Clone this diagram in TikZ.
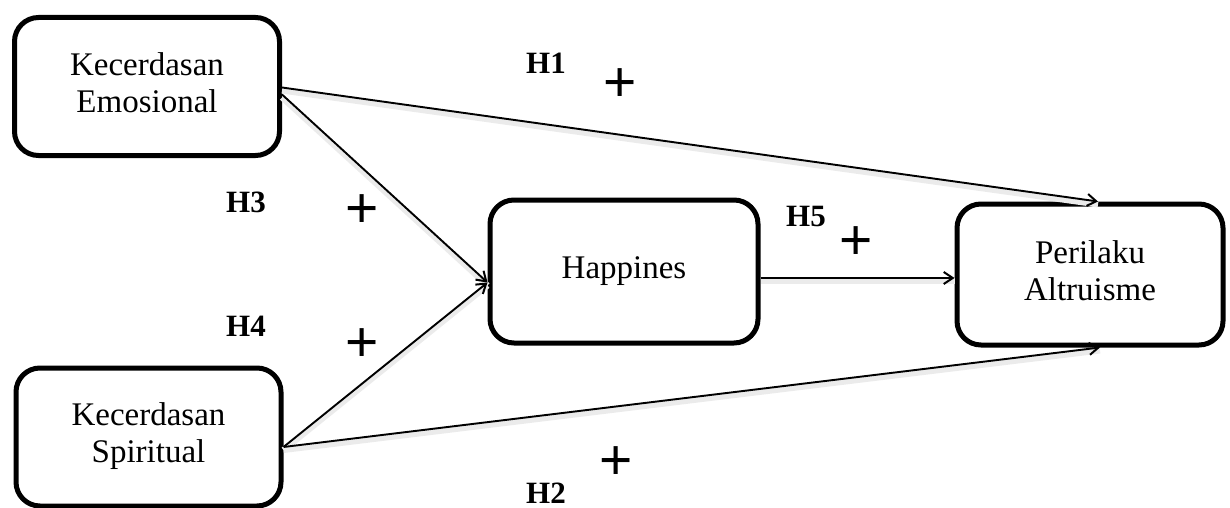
\documentclass[tikz,border=0pt]{standalone}
\usepackage{fontspec}
\setmainfont{Liberation Serif}
\newfontfamily\plusfont{Liberation Sans}
\usetikzlibrary{arrows.meta,calc}
\newcommand{\vtxt}[1]{\raisebox{-5pt}{\begin{tabular}{@{}c@{}}#1\end{tabular}}}
\tikzset{
  varbox/.style={draw=black, line width=5pt, rounded corners=24pt, fill=white,
    minimum width=265pt, minimum height=138pt, align=center, inner sep=0pt,
    font=\fontsize{33}{37}\selectfont},
  hlabel/.style={font=\fontsize{31}{33}\selectfont\bfseries, inner sep=0pt},
  pluslabel/.style={font=\fontsize{57}{57}\selectfont\plusfont, inner sep=0pt},
  conn/.style={line width=1.9pt, -{Straight Barb[length=9pt,width=12pt,line width=2pt]},
    preaction={draw=black!8, line width=6pt, -, transform canvas={shift={(0pt,-3pt)}}}}
}
\begin{document}
\begin{tikzpicture}[x=1pt,y=-1pt]
\useasboundingbox (0,0) rectangle (1230,508);
\node[varbox] (e1) at (147,86.5) {\vtxt{Kecerdasan\\Emosional}};
\node[varbox] (e2) at (148.5,437) {\vtxt{Kecerdasan\\Spiritual}};
\node[varbox, minimum width=268pt, minimum height=143pt] (hp) at (624,271.5) {\vtxt{Happines}};
\node[varbox, minimum width=266pt, minimum height=141pt] (pa) at (1090,274.5) {\vtxt{Perilaku\\Altruisme}};

\draw[conn] ([yshift=-1pt]e1.east) -- ([xshift=8pt]pa.north);
\draw[conn] ([yshift=-8pt]e1.east) -- ([yshift=-11pt]hp.west);
\draw[conn] ([yshift=-10pt]e2.east) -- ([yshift=-11pt]hp.west);
\draw[conn] ([yshift=-10pt]e2.east) -- ([xshift=10pt]pa.south);
\draw[conn] ([yshift=-6.5pt]hp.east) -- ([yshift=-3.5pt]pa.west);

\node[hlabel] (h1) at (546,63) {H1};
\node[hlabel] (h3) at (246,202) {H3};
\node[hlabel] (h4) at (246,326) {H4};
\node[hlabel] (h5) at (806,217) {H5};
\node[hlabel] (h2) at (546,493) {H2};

\node[pluslabel] (p1) at (620,85) {+};
\node[pluslabel] (p3) at (362,211) {+};
\node[pluslabel] (p4) at (362,345) {+};
\node[pluslabel] (p5) at (856,243) {+};
\node[pluslabel] (p2) at (616,463) {+};
\end{tikzpicture}
\end{document}
